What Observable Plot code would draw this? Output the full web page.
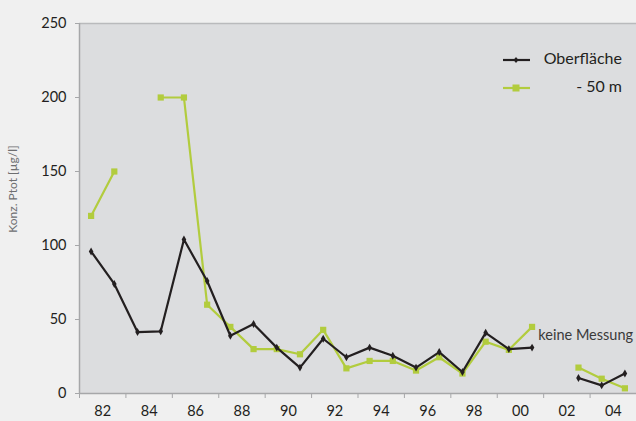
<!DOCTYPE html>
<html>
<head>
<meta charset="utf-8">
<script src="https://cdn.jsdelivr.net/npm/d3@7"></script>
<script src="https://cdn.jsdelivr.net/npm/@observablehq/plot@0.6"></script>
<style>
  body { margin: 0; background: #f0f0f0; }
  #wrap { position: relative; width: 636px; height: 421px; background: #f0f0f0; font-family: Lato, "Open Sans", sans-serif; }
  #legend { position: absolute; left: 503px; top: 47px; width: 119px; font-size: 16px; color: #231f20; }
  .lrow { position: relative; height: 28px; }
  .lrow svg { position: absolute; left: 0; top: 4px; }
  .lrow span { position: absolute; right: 0; top: 1px; }
</style>
</head>
<body>
<div id="wrap"></div>
<script>
const years = [1982,1983,1984,1985,1986,1987,1988,1989,1990,1991,1992,1993,1994,1995,1996,1997,1998,1999,2000,2001,2002,2003,2004,2005];
const oberflaeche = [96,74,41.5,42,104,76,39,47,31,17.5,37,24.5,31,25.5,17.5,28,14.5,41,30,31,null,10.5,5.5,13.5];
const minus50 = [120,150,null,200,200,60,45,30,30,26.5,43,17,22,22,15.5,24.5,13.5,35,29.5,45,null,17.5,10,3.5];
const yTicks = [0,50,100,150,200,250];
const xTickLabels = ["82","84","86","88","90","92","94","96","98","00","02","04"];
const seriesNames = ["Oberfläche", "- 50 m"];
const note = [{year: 2001.27, value: 39, label: "keine Messung"}];

const colBlack = "#231f20";
const colGreen = "#b2cc3e";

const dataO = years.map((y, i) => ({year: y, value: oberflaeche[i]}));
const dataG = years.map((y, i) => ({year: y, value: minus50[i]}));
const labelPos = xTickLabels.map((_, i) => years[0] + 0.5 + 2 * i);
const boundaries = d3.range(years[0] - 0.5, years[years.length - 1] + 1, 2);

const plot = Plot.plot({
  width: 636,
  height: 421,
  marginLeft: 79,
  marginRight: 0,
  marginTop: 23,
  marginBottom: 28,
  style: {background: "transparent", fontFamily: "Lato, 'Open Sans', sans-serif", fontSize: "14px", color: colBlack},
  x: {domain: [years[0] - 0.5, years[years.length - 1] + 0.5]},
  y: {domain: [0, 250]},
  marks: [
    Plot.frame({fill: "#dcdddf", stroke: null}),
    Plot.ruleY([250], {stroke: "#b9babc", strokeWidth: 1.5}),
    Plot.ruleY([0], {stroke: "#a6a7a9", strokeWidth: 1.5}),
    Plot.ruleX([years[0] - 0.5], {stroke: "#a6a7a9", strokeWidth: 1.5}),
    Plot.axisY({ticks: yTicks, tickSize: 4, tickPadding: 9, stroke: "#a6a7a9", fontSize: 14.5, label: null}),
    Plot.axisX({ticks: boundaries, tickSize: 5, stroke: "#a6a7a9", tickFormat: () => "", label: null}),
    Plot.axisX({ticks: labelPos, tickSize: 0, tickPadding: 12, tickFormat: (d, i) => xTickLabels[i], fontSize: 14.5, label: null}),
    Plot.line(dataG, {x: "year", y: "value", stroke: colGreen, strokeWidth: 2.2}),
    Plot.dot(dataG, {x: "year", y: "value", symbol: "square", r: 3.5, fill: colGreen, stroke: null}),
    Plot.line(dataO, {x: "year", y: "value", stroke: colBlack, strokeWidth: 2.2}),
    Plot.dot(dataO, {x: "year", y: "value", symbol: "diamond", r: 2.4, fill: colBlack, stroke: null}),
    Plot.text(note, {x: "year", y: "value", text: "label", textAnchor: "start", fontSize: 14.5, fill: "#3a3a3a"})
  ]
});

const wrap = document.getElementById("wrap");
wrap.appendChild(plot);

// y-axis title
const title = document.createElement("div");
title.textContent = "Konz. Ptot [µg/l]";
Object.assign(title.style, {position: "absolute", left: "12px", top: "189px", transform: "translate(-50%, -50%) rotate(-90deg)", whiteSpace: "nowrap", fontSize: "12px", color: "#6d6e70"});
wrap.appendChild(title);

// legend
const legend = document.createElement("div");
legend.id = "legend";
const markerSvg = (color, kind) => {
  const m = kind === "diamond"
    ? `<path d="M13,6 L15.5,9 L13,12 L10.5,9 Z" fill="${color}"/>`
    : `<rect x="9.5" y="5.5" width="7" height="7" fill="${color}"/>`;
  return `<svg width="27" height="18"><line x1="0" y1="9" x2="27" y2="9" stroke="${color}" stroke-width="2.2"/>${m}</svg>`;
};
legend.innerHTML =
  `<div class="lrow">${markerSvg(colBlack, "diamond")}<span>${seriesNames[0]}</span></div>` +
  `<div class="lrow">${markerSvg(colGreen, "square")}<span>${seriesNames[1]}</span></div>`;
wrap.appendChild(legend);
</script>
</body>
</html>
